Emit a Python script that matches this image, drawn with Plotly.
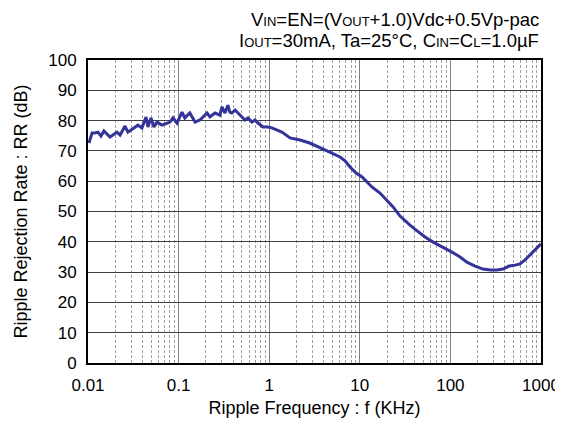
import plotly.graph_objects as go

freq_khz = [0.01025, 0.0111, 0.0119, 0.0129, 0.0139, 0.0150, 0.0175, 0.0209, 0.0226, 0.0256,
            0.0276, 0.0330, 0.0356, 0.0394, 0.0437, 0.0459, 0.0495, 0.0534, 0.0577, 0.0655,
            0.0744, 0.0804, 0.0867, 0.0960, 0.109, 0.117, 0.133, 0.152, 0.172, 0.186,
            0.206, 0.222, 0.252, 0.286, 0.301, 0.325, 0.350, 0.368, 0.388, 0.420,
            0.476, 0.540, 0.583, 0.646, 0.697, 0.752, 0.853, 0.967, 1.07, 1.25,
            1.38, 1.70, 2.19, 2.80, 3.6, 4.66, 6.04, 6.87, 7.8, 9.1,
            10.6, 13.6, 16.7, 19.9, 23.3, 27.8, 31.6, 35.8, 42.9, 52.5,
            64.5, 82.9, 104, 128, 152, 187, 229, 275, 327, 381,
            445, 518, 586, 666, 756, 876, 1000]
rr_db = [72.6, 75.9, 75.9, 76.2, 74.9, 76.6, 74.6, 76.2, 75.2, 78.2,
         76.2, 77.9, 78.5, 77.6, 81.2, 77.9, 80.9, 77.9, 79.5, 78.5,
         79.2, 79.5, 80.9, 79.2, 82.8, 80.9, 82.5, 79.5, 80.2, 81.2,
         82.5, 81.2, 82.5, 81.8, 84.5, 82.5, 85.1, 82.8, 82.5, 83.5,
         81.8, 80.2, 80.9, 79.5, 80.2, 79.2, 77.9, 77.9, 77.6, 76.9,
         76.2, 74.3, 73.6, 72.6, 71.0, 69.6, 68.0, 66.7, 64.7, 62.7,
         61.4, 58.1, 56.1, 53.8, 51.5, 48.5, 46.9, 45.5, 43.6, 41.6,
         39.9, 38.3, 36.6, 35.0, 33.3, 32.0, 31.0, 30.7, 30.7, 31.0,
         32.0, 32.3, 32.7, 34.0, 35.6, 37.3, 39.3]

x_tickvals = [0.01, 0.1, 1, 10, 100, 1000]
x_ticktext = ["0.01", "0.1", "1", "10", "100", "1000"]
y_tickvals = list(range(0, 101, 10))

FONT = "Liberation Sans, Arial, sans-serif"

fig = go.Figure()
fig.add_trace(go.Scatter(x=freq_khz, y=rr_db, mode="lines",
                         line=dict(color="#333399", width=3),
                         showlegend=False, hoverinfo="skip"))

# page body has an 8px default margin, so the figure is sized/offset to fit the 563x425 window
fig.update_layout(
    width=555, height=417,
    margin=dict(l=80, r=22, t=52, b=62, autoexpand=False),
    paper_bgcolor="white", plot_bgcolor="white",
    font=dict(family=FONT, color="black", size=16),
)

fig.update_xaxes(
    type="log", range=[-2, 3], automargin=False,
    tickvals=x_tickvals, ticktext=x_ticktext,
    showgrid=True, gridcolor="#808080", gridwidth=1.2,
    minor=dict(dtick="D1", showgrid=True, gridcolor="#a0a0a0", griddash="3px,2px", gridwidth=1, ticks=""),
    showline=True, linecolor="black", linewidth=2, mirror=True,
    ticks="", ticklen=0, zeroline=False, ticklabelstandoff=6,
    title=dict(text="Ripple Frequency : f (KHz)", font=dict(size=18), standoff=7),
    tickfont=dict(size=17),
)
fig.update_yaxes(
    range=[0, 100], tickvals=y_tickvals, automargin=False,
    showgrid=True, gridcolor="#404040", gridwidth=1.2,
    showline=True, linecolor="black", linewidth=2, mirror=True,
    ticks="", zeroline=False, ticklabelstandoff=6,
    title=dict(text="Ripple Rejection Rate : RR (dB)", font=dict(size=18), standoff=16),
    tickfont=dict(size=17),
)

s = "<span style='font-size:13px'>"
e = "</span>"
line1 = f"V{s}IN{e}=EN=(V{s}OUT{e}+1.0)Vdc+0.5Vp-pac"
line2 = f"I{s}OUT{e}=30mA, Ta=25°C, C{s}IN{e}=C{s}L{e}=1.0µF"
fig.add_annotation(text=line1, xref="paper", yref="paper", x=1.0, y=1.0, yshift=41,
                   xanchor="right", yanchor="middle", showarrow=False, font=dict(size=18.5))
fig.add_annotation(text=line2, xref="paper", yref="paper", x=1.0, y=1.0, yshift=20,
                   xanchor="right", yanchor="middle", showarrow=False, font=dict(size=18.5))

fig.write_html("out.html")
